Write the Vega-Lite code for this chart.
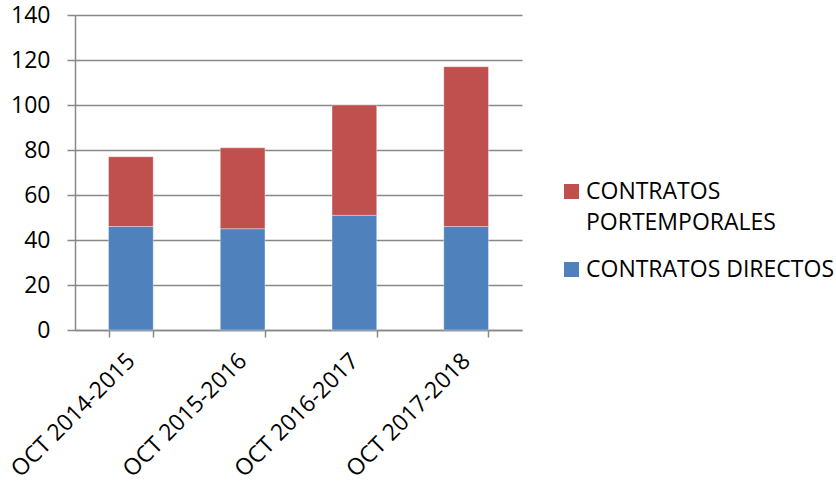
{
  "$schema": "https://vega.github.io/schema/vega-lite/v6.json",
  "width": 447,
  "height": 315,
  "autosize": {"type": "none"},
  "padding": {"left": 75, "top": 15, "right": 314, "bottom": 155},
  "background": "white",
  "config": {
    "view": {"stroke": null},
    "font": "Open Sans"
  },
  "data": {
    "values": [
      {"periodo": "OCT 2014-2015", "tipo": "CONTRATOS DIRECTOS", "valor": 46, "orden": 1},
      {"periodo": "OCT 2014-2015", "tipo": "CONTRATOS PORTEMPORALES", "valor": 31, "orden": 2},
      {"periodo": "OCT 2015-2016", "tipo": "CONTRATOS DIRECTOS", "valor": 45, "orden": 1},
      {"periodo": "OCT 2015-2016", "tipo": "CONTRATOS PORTEMPORALES", "valor": 36, "orden": 2},
      {"periodo": "OCT 2016-2017", "tipo": "CONTRATOS DIRECTOS", "valor": 51, "orden": 1},
      {"periodo": "OCT 2016-2017", "tipo": "CONTRATOS PORTEMPORALES", "valor": 49, "orden": 2},
      {"periodo": "OCT 2017-2018", "tipo": "CONTRATOS DIRECTOS", "valor": 46, "orden": 1},
      {"periodo": "OCT 2017-2018", "tipo": "CONTRATOS PORTEMPORALES", "valor": 71, "orden": 2}
    ]
  },
  "mark": {"type": "bar", "stroke": "#ffffff", "strokeWidth": 0.6, "strokeOpacity": 0.6},
  "encoding": {
    "x": {
      "field": "periodo",
      "type": "nominal",
      "title": null,
      "scale": {"paddingInner": 0.6, "paddingOuter": 0.3},
      "axis": {
        "labelAngle": -45,
        "labelAlign": "right",
        "labelBaseline": "middle",
        "labelFontSize": 23,
        "labelColor": "#000000",
        "labelPadding": 20,
        "tickBand": "extent",
        "tickSize": 7,
        "tickColor": "#888888",
        "tickWidth": 1.5,
        "domainColor": "#888888",
        "domainWidth": 1.5,
        "grid": false
      }
    },
    "y": {
      "field": "valor",
      "type": "quantitative",
      "aggregate": "sum",
      "stack": "zero",
      "title": null,
      "scale": {"domain": [0, 140]},
      "axis": {
        "values": [0, 20, 40, 60, 80, 100, 120, 140],
        "labelFontSize": 23,
        "labelColor": "#000000",
        "labelPadding": 17,
        "tickSize": 8,
        "tickColor": "#888888",
        "tickWidth": 1.5,
        "domainColor": "#888888",
        "domainWidth": 1.5,
        "grid": true,
        "gridColor": "#888888",
        "gridWidth": 1.5,
        "gridOpacity": 1
      }
    },
    "color": {
      "field": "tipo",
      "type": "nominal",
      "scale": {
        "domain": ["CONTRATOS PORTEMPORALES", "CONTRATOS DIRECTOS"],
        "range": ["#C0504D", "#4F81BD"]
      },
      "legend": {
        "title": null,
        "orient": "none",
        "legendX": 485,
        "legendY": 165,
        "padding": 0,
        "symbolType": "square",
        "symbolSize": 225,
        "symbolStrokeWidth": 0,
        "labelFontSize": 23,
        "labelColor": "#000000",
        "labelLimit": 400,
        "labelOffset": 3,
        "rowPadding": 23,
        "labelExpr": "datum.label == 'CONTRATOS PORTEMPORALES' ? ['CONTRATOS', 'PORTEMPORALES'] : datum.label",
        "encoding": {"labels": {"lineHeight": {"value": 31}}}
      }
    },
    "order": {"field": "orden", "type": "quantitative"}
  }
}
